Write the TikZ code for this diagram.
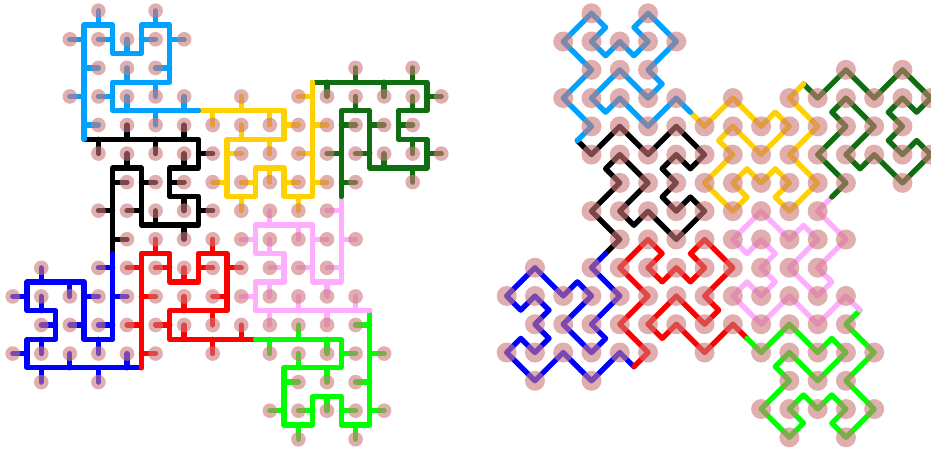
\documentclass[tikz,border=0pt]{standalone}
\usepackage{tikz}
\definecolor{curvelightblue}{rgb}{0.0, 0.63, 1.0}
\definecolor{curveblue}{rgb}{0.0, 0.0, 1.0}
\definecolor{curvered}{rgb}{1.0, 0.0, 0.0}
\definecolor{curvegreen}{rgb}{0.0, 1.0, 0.0}
\definecolor{curvepink}{rgb}{1.0, 0.68, 1.0}
\definecolor{curvedarkgreen}{rgb}{0.06, 0.43, 0.06}
\definecolor{curveyellow}{rgb}{1.0, 0.82, 0.0}
\definecolor{dotrose}{rgb}{0.8, 0.47, 0.47}

% dot x/dot y/next corner x/next corner y
\def\partlightblue{5.5/2.5/5/3, 4.5/3.5/4/3, 3.5/2.5/3/3, 2.5/2.5/3/2, 3.5/1.5/4/2, 4.5/2.5/5/2, 4.5/1.5/5/1, 5.5/0.5/5/0, 4.5/-0.5/4/0, 4.5/0.5/4/1, 3.5/0.5/3/1, 2.5/0.5/3/0, 2.5/-0.5/2/0, 1.5/0.5/2/1, 2.5/1.5/2/2, 1.5/2.5/2/3, 2.5/3.5/2/4}
\def\partblack{2.5/4.5/3/4, 3.5/3.5/4/4, 4.5/4.5/5/4, 5.5/3.5/6/4, 6.5/4.5/6/5, 5.5/4.5/5/5, 5.5/5.5/5/6, 5.5/6.5/6/6, 6.5/6.5/6/7, 5.5/7.5/5/7, 4.5/6.5/4/7, 3.5/6.5/4/6, 4.5/5.5/4/5, 3.5/4.5/3/5, 3.5/5.5/3/6, 2.5/6.5/3/7, 3.5/7.5/3/8}
\def\partblue{2.5/8.5/3/9, 3.5/9.5/3/10, 2.5/10.5/3/11, 2.5/11.5/2/11, 1.5/10.5/2/10, 2.5/9.5/2/9, 1.5/9.5/1/9, 0.5/8.5/0/9, -0.5/9.5/0/10, 0.5/9.5/1/10, 0.5/10.5/1/11, 0.5/11.5/0/11, -0.5/11.5/0/12, 0.5/12.5/1/12, 1.5/11.5/2/12, 2.5/12.5/3/12, 3.5/11.5/4/12}
\def\partred{4.5/11.5/4/11, 3.5/10.5/4/10, 4.5/9.5/4/9, 3.5/8.5/4/8, 4.5/7.5/5/8, 4.5/8.5/5/9, 5.5/8.5/6/9, 6.5/8.5/6/8, 6.5/7.5/7/8, 7.5/8.5/7/9, 6.5/9.5/7/10, 6.5/10.5/6/10, 5.5/9.5/5/10, 4.5/10.5/5/11, 5.5/10.5/6/11, 6.5/11.5/7/11, 7.5/10.5/8/11}
\def\partgreen{8.5/11.5/9/11, 9.5/10.5/10/11, 10.5/11.5/11/11, 11.5/11.5/11/12, 10.5/12.5/10/12, 9.5/11.5/9/12, 9.5/12.5/9/13, 8.5/13.5/9/14, 9.5/14.5/10/14, 9.5/13.5/10/13, 10.5/13.5/11/13, 11.5/13.5/11/14, 11.5/14.5/12/14, 12.5/13.5/12/13, 11.5/12.5/12/12, 12.5/11.5/12/11, 11.5/10.5/12/10}
\def\partpink{11.5/9.5/11/10, 10.5/10.5/10/10, 9.5/9.5/9/10, 8.5/10.5/8/10, 7.5/9.5/8/9, 8.5/9.5/9/9, 8.5/8.5/9/8, 8.5/7.5/8/8, 7.5/7.5/8/7, 8.5/6.5/9/7, 9.5/7.5/10/7, 10.5/7.5/10/8, 9.5/8.5/10/9, 10.5/9.5/11/9, 10.5/8.5/11/8, 11.5/7.5/11/7, 10.5/6.5/11/6}
\def\partdarkgreen{11.5/5.5/11/5, 10.5/4.5/11/4, 11.5/3.5/11/3, 11.5/2.5/12/3, 12.5/3.5/12/4, 11.5/4.5/12/5, 12.5/4.5/13/5, 13.5/5.5/14/5, 14.5/4.5/14/4, 13.5/4.5/13/4, 13.5/3.5/13/3, 13.5/2.5/14/3, 14.5/2.5/14/2, 13.5/1.5/13/2, 12.5/2.5/12/2, 11.5/1.5/11/2, 10.5/2.5/10/2}
\def\partyellow{9.5/2.5/10/3, 10.5/3.5/10/4, 9.5/4.5/10/5, 10.5/5.5/10/6, 9.5/6.5/9/6, 9.5/5.5/9/5, 8.5/5.5/8/5, 7.5/5.5/8/6, 7.5/6.5/7/6, 6.5/5.5/7/5, 7.5/4.5/7/4, 7.5/3.5/8/4, 8.5/4.5/9/4, 9.5/3.5/9/3, 8.5/3.5/8/3, 7.5/2.5/7/3, 6.5/3.5/6/3}

% square curve with a stub from each edge to its dot
\newcommand{\squarepart}[4]{
	\draw[curveline, #1] (#2,#3) \foreach \dotx/\doty/\nx/\ny in #4 { -- (\nx,\ny) };
	\foreach \dotx/\doty/\nx/\ny [remember=\nx as \px (initially #2), remember=\ny as \py (initially #3)] in #4 {
		\draw[curveline, #1] ({(\px+\nx)/2},{(\py+\ny)/2}) -- (\dotx,\doty);
	}
}
% same edges, bent through their dots
\newcommand{\bentpart}[4]{
	\draw[curveline, #1] (#2,#3) \foreach \dotx/\doty/\nx/\ny in #4 { -- (\dotx,\doty) -- (\nx,\ny) };
}
\newcommand{\dotsof}[2]{
	\foreach \dotx/\doty/\nx/\ny in #1 {
		\fill[curvedot] (\dotx,\doty) circle (#2);
	}
}
\newcommand{\alldots}[1]{
	\dotsof{\partblack}{#1}
	\dotsof{\partblue}{#1}
	\dotsof{\partred}{#1}
	\dotsof{\partgreen}{#1}
	\dotsof{\partpink}{#1}
	\dotsof{\partdarkgreen}{#1}
	\dotsof{\partyellow}{#1}
	\dotsof{\partlightblue}{#1}
}

\begin{document}
\begin{tikzpicture}[
		curveline/.style={line width=0.185cm, line cap=round, line join=round},
		curvedot/.style={fill=dotrose, opacity=0.6}
	]
	\useasboundingbox (0,0) rectangle (32.586,-15.751);
	\clip (0,0) rectangle (32.586,-15.751);

	% Left curve
	\begin{scope}[shift={(0.945,-0.875)}, y=-1cm]
		\squarepart{black}{2}{4}{\partblack}
		\squarepart{curveblue}{3}{8}{\partblue}
		\squarepart{curvered}{4}{12}{\partred}
		\squarepart{curvegreen}{8}{11}{\partgreen}
		\squarepart{curvepink}{12}{10}{\partpink}
		\squarepart{curvedarkgreen}{11}{6}{\partdarkgreen}
		\squarepart{curveyellow}{10}{2}{\partyellow}
		\squarepart{curvelightblue}{6}{3}{\partlightblue}
		\alldots{0.256cm}
	\end{scope}

	% Right curve
	\begin{scope}[shift={(18.229,-0.959)}, x=0.9895cm, y=-0.9895cm]
		\bentpart{black}{2}{4}{\partblack}
		\bentpart{curveblue}{3}{8}{\partblue}
		\bentpart{curvered}{4}{12}{\partred}
		\bentpart{curvegreen}{8}{11}{\partgreen}
		\bentpart{curvepink}{12}{10}{\partpink}
		\bentpart{curvedarkgreen}{11}{6}{\partdarkgreen}
		\bentpart{curveyellow}{10}{2}{\partyellow}
		\bentpart{curvelightblue}{6}{3}{\partlightblue}
		\alldots{0.35cm}
	\end{scope}
\end{tikzpicture}
\end{document}
